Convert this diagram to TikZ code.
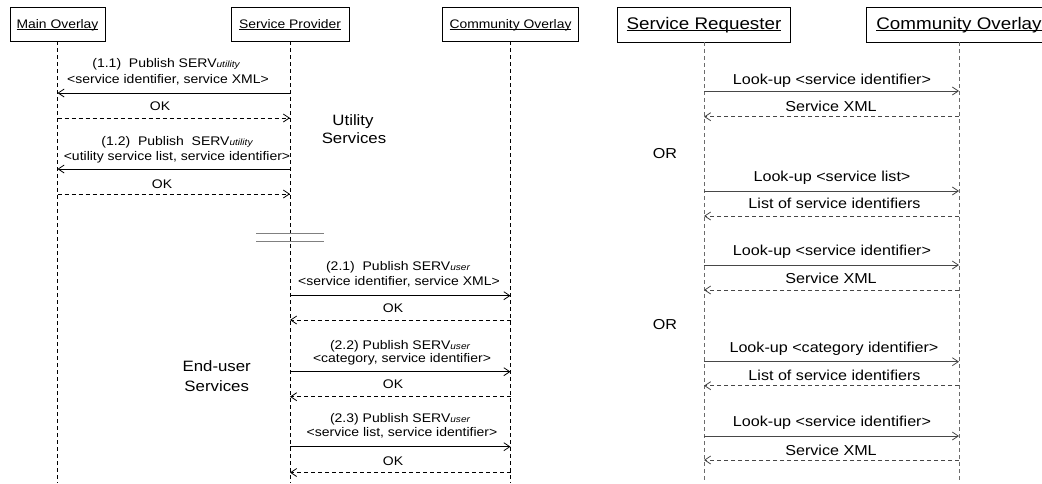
\documentclass[tikz,border=0pt]{standalone}
\usepackage{fontspec}
\setmainfont{Liberation Sans}[FakeStretch=1.12]
\usetikzlibrary{arrows.meta}
\newcommand\myul[1]{\setbox0\hbox{#1}\rlap{\rule[-1.8pt]{\wd0}{0.7pt}}\box0}
\newcommand\subsv[1]{{\fontsize{9}{10}\selectfont\itshape #1}}
\newcommand\fL{\fontsize{12.5}{14}\selectfont}
\newcommand\fR{\fontsize{14.4}{16}\selectfont}
\newcommand\fB{\fontsize{16.8}{18}\selectfont}
\newcommand\fN{\fontsize{12.4}{14}\selectfont}
\definecolor{rline}{gray}{0.42}
\definecolor{rarr}{gray}{0.28}
\begin{document}
\begin{tikzpicture}[x=1pt,y=-1pt,
  lbox/.style={draw, line width=0.8pt, inner sep=0pt, minimum height=34pt, text height=10pt, text depth=2pt, font=\fN},
  rbox/.style={draw, line width=0.8pt, inner sep=0pt, minimum height=35pt, text height=11pt, text depth=2pt, font=\fB},
  lifeline/.style={dash pattern=on 4pt off 3pt, line width=0.8pt},
  msg/.style={-{Straight Barb[length=6pt,width=8pt]}, line width=0.8pt},
  reply/.style={msg, dash pattern=on 4pt off 3pt},
  ll/.style={anchor=base, inner sep=0pt, font=\fL},
  rl/.style={anchor=base, inner sep=0pt, font=\fR},
  big/.style={anchor=base, inner sep=0pt, font=\fontsize{15}{17}\selectfont}]
\useasboundingbox (0,0) rectangle (1042,483);
\coordinate (bot) at (0,483);
% participants
\node[lbox, minimum width=95pt] (MO) at (57.5,24) {\myul{Main Overlay}};
\node[lbox, minimum width=118pt] (SP) at (290,24) {\myul{Service Provider}};
\node[lbox, minimum width=136pt] (CO) at (510.5,24) {\myul{Community Overlay}};
\node[rbox, minimum width=173pt] (SR) at (704,24.5) {\myul{Service Requester}};
\node[rbox, minimum width=186pt] (CR) at (959,24.5) {\myul{Community Overlay}};
% lifelines
\coordinate (MOe) at (MO.south |- bot);
\coordinate (SPe) at (SP.south |- bot);
\coordinate (COe) at (CO.south |- bot);
\coordinate (SRe) at (SR.south |- bot);
\coordinate (CRe) at (CR.south |- bot);
\draw[lifeline] (MO.south) -- (MOe);
\draw[lifeline] (SP.south) -- (SPe);
\draw[lifeline] (CO.south) -- (COe);
\draw[lifeline, rline] (SR.south) -- (SRe);
\draw[lifeline, rline] (CR.south) -- (CRe);
% (1.1)
\node[ll] (t11a) at (166,67) {(1.1)\ \ Publish SERV\subsv{utility}};
\node[ll] (t11b) at (168,83) {<service identifier, service XML>};
\draw[msg] (SP.south |- 0,93) -- (MO.south |- 0,93);
\node[ll] (t11c) at (160,110) {OK};
\draw[reply] (MO.south |- 0,118) -- (SP.south |- 0,118);
% (1.2)
\node[ll] (t12a) at (177,145) {(1.2)\ \ Publish\ \ SERV\subsv{utility}};
\node[ll] (t12b) at (177,160) {<utility service list, service identifier>};
\draw[msg] (SP.south |- 0,169) -- (MO.south |- 0,169);
\node[ll] (t12c) at (162,188) {OK};
\draw[reply] (MO.south |- 0,194) -- (SP.south |- 0,194);
% Utility Services
\node[big] (us1) at (353,125) {Utility};
\node[big] (us2) at (354,143.3) {Services};
% break marker
\coordinate (brA) at (256,233);
\coordinate (brB) at (324,233);
\coordinate (brC) at (256,241);
\coordinate (brD) at (324,241);
\draw[gray, line width=0.8pt] (brA) -- (brB);
\draw[gray, line width=0.8pt] (brC) -- (brD);
% (2.1)
\node[ll] (t21a) at (398,270) {(2.1)\ \ Publish SERV\subsv{user}};
\node[ll] (t21b) at (399,285.7) {<service identifier, service XML>};
\draw[msg] (SP.south |- 0,295.7) -- (CO.south |- 0,295.7);
\node[ll] (t21c) at (393,312.7) {OK};
\draw[reply] (CO.south |- 0,320) -- (SP.south |- 0,320);
% (2.2)
\node[ll] (t22a) at (400,349.3) {(2.2) Publish SERV\subsv{user}};
\node[ll] (t22b) at (402,362.7) {<category, service identifier>};
\draw[msg] (SP.south |- 0,371.7) -- (CO.south |- 0,371.7);
\node[ll] (t22c) at (393,388.3) {OK};
\draw[reply] (CO.south |- 0,396.7) -- (SP.south |- 0,396.7);
% (2.3)
\node[ll] (t23a) at (400,422.7) {(2.3) Publish SERV\subsv{user}};
\node[ll] (t23b) at (402,436.7) {<service list, service identifier>};
\draw[msg] (SP.south |- 0,446.7) -- (CO.south |- 0,446.7);
\node[ll] (t23c) at (393,465) {OK};
\draw[reply] (CO.south |- 0,472.5) -- (SP.south |- 0,472.5);
% End-user Services
\node[big] (eu1) at (216.7,371.7) {End-user};
\node[big] (eu2) at (216.7,391.7) {Services};
% right side
\node[rl] (r1a) at (832,84) {Look-up <service identifier>};
\draw[msg, rarr] (SR.south |- 0,91) -- (CR.south |- 0,91);
\node[rl] (r1b) at (831,111.7) {Service XML};
\draw[reply, rarr] (CR.south |- 0,116.7) -- (SR.south |- 0,116.7);
\node[rl] (or1) at (665,158.3) {OR};
\node[rl] (r2a) at (832,181.7) {Look-up <service list>};
\draw[msg, rarr] (SR.south |- 0,191) -- (CR.south |- 0,191);
\node[rl] (r2b) at (834.5,208.3) {List of service identifiers};
\draw[reply, rarr] (CR.south |- 0,216) -- (SR.south |- 0,216);
\node[rl] (r3a) at (832,255) {Look-up <service identifier>};
\draw[msg, rarr] (SR.south |- 0,265) -- (CR.south |- 0,265);
\node[rl] (r3b) at (831,283.3) {Service XML};
\draw[reply, rarr] (CR.south |- 0,290) -- (SR.south |- 0,290);
\node[rl] (or2) at (665,329.3) {OR};
\node[rl] (r4a) at (834,352.3) {Look-up <category identifier>};
\draw[msg, rarr] (SR.south |- 0,361.7) -- (CR.south |- 0,361.7);
\node[rl] (r4b) at (834.5,380) {List of service identifiers};
\draw[reply, rarr] (CR.south |- 0,385.7) -- (SR.south |- 0,385.7);
\node[rl] (r5a) at (832,426.7) {Look-up <service identifier>};
\draw[msg, rarr] (SR.south |- 0,436) -- (CR.south |- 0,436);
\node[rl] (r5b) at (831,455) {Service XML};
\draw[reply, rarr] (CR.south |- 0,460) -- (SR.south |- 0,460);
\end{tikzpicture}
\end{document}
